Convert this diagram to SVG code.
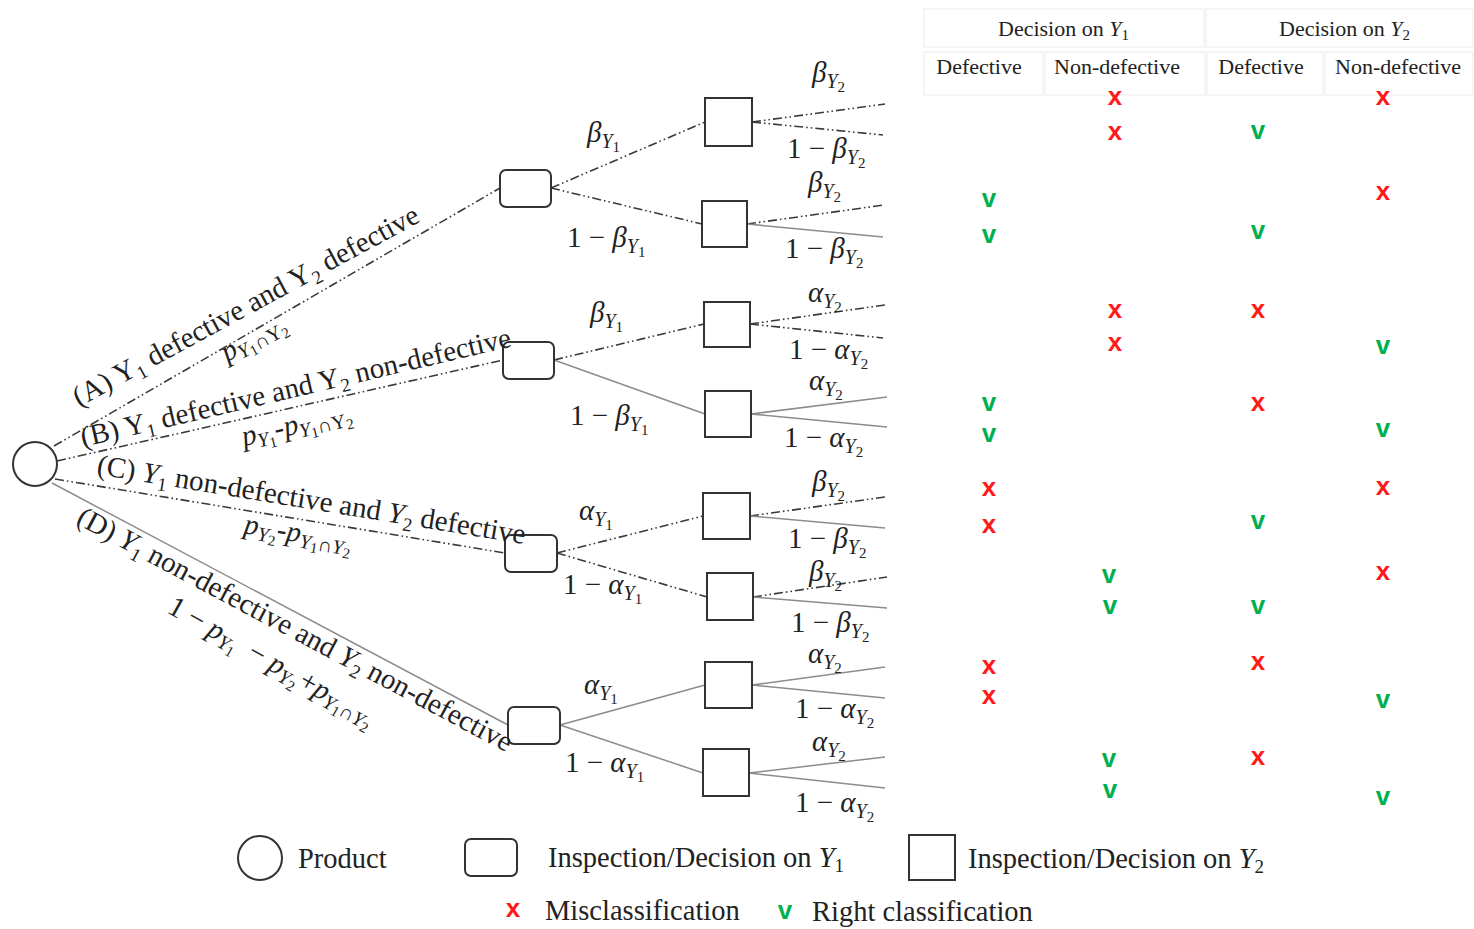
<svg xmlns="http://www.w3.org/2000/svg" width="1474" height="929" viewBox="0 0 1474 929">
  <style>
    .bg { fill: #ffffff; }
    .node { fill: #ffffff; stroke: #333333; stroke-width: 2; }
    .dd { stroke: #3a3a3a; stroke-width: 1.6; stroke-dasharray: 9 3 1.6 3 1.6 3; fill: none; }
    .sl { stroke: #8c8c8c; stroke-width: 1.5; fill: none; }
    .grid { fill: none; stroke: #ececec; stroke-width: 1; }
    .hd { font-family: "Liberation Serif", "Times New Roman", serif; font-size: 22px; fill: #222; }
    .lab { font-family: "Liberation Serif", "Times New Roman", serif; font-size: 29px; fill: #222; }
    .m { font-family: "Liberation Serif", "Times New Roman", serif; font-size: 29px; font-style: italic; fill: #222; }
    .u { font-style: normal; }
    .s1 { font-size: 20px; }
    .s2 { font-size: 15px; font-style: normal; }
    .lg { font-family: "Liberation Serif", "Times New Roman", serif; font-size: 28.5px; fill: #222; }
    .mk { font-family: "Liberation Sans", Arial, sans-serif; font-size: 26px; font-weight: bold; text-anchor: middle; }
    .x { fill: #ff1a1a; }
    .v { fill: #00b050; }
  </style>
  <rect class="bg" x="0" y="0" width="1474" height="929"/>

  <!-- connectors -->
  <g id="connectors">
    <!-- product to Y1 inspection -->
    <line class="dd" x1="54" y1="446" x2="500" y2="188"/>
    <line class="dd" x1="57" y1="461" x2="503" y2="360"/>
    <line class="dd" x1="55" y1="479" x2="505" y2="553"/>
    <line class="sl" x1="52" y1="483" x2="508" y2="725"/>
    <!-- Y1 inspection to Y2 inspection -->
    <line class="dd" x1="551" y1="188" x2="705" y2="122"/>
    <line class="dd" x1="551" y1="188" x2="702" y2="224"/>
    <line class="dd" x1="554" y1="360" x2="704" y2="324"/>
    <line class="sl" x1="554" y1="360" x2="705" y2="414"/>
    <line class="dd" x1="557" y1="553" x2="703" y2="516"/>
    <line class="dd" x1="557" y1="553" x2="707" y2="597"/>
    <line class="sl" x1="560" y1="725" x2="705" y2="685"/>
    <line class="sl" x1="560" y1="725" x2="703" y2="773"/>
    <!-- Y2 outcomes -->
    <line class="dd" x1="752" y1="122" x2="885" y2="104"/>
    <line class="dd" x1="752" y1="122" x2="883" y2="135"/>
    <line class="dd" x1="747" y1="224" x2="884" y2="205"/>
    <line class="sl" x1="747" y1="224" x2="883" y2="237"/>
    <line class="dd" x1="750" y1="324" x2="885" y2="305"/>
    <line class="dd" x1="750" y1="324" x2="883" y2="338"/>
    <line class="sl" x1="751" y1="414" x2="887" y2="397"/>
    <line class="sl" x1="751" y1="414" x2="887" y2="427"/>
    <line class="dd" x1="750" y1="516" x2="885" y2="497"/>
    <line class="sl" x1="750" y1="516" x2="885" y2="528"/>
    <line class="dd" x1="753" y1="597" x2="887" y2="577"/>
    <line class="sl" x1="753" y1="597" x2="887" y2="608"/>
    <line class="sl" x1="752" y1="685" x2="885" y2="667"/>
    <line class="sl" x1="752" y1="685" x2="885" y2="698"/>
    <line class="sl" x1="749" y1="773" x2="885" y2="757"/>
    <line class="sl" x1="749" y1="773" x2="885" y2="788"/>
  </g>

  <!-- nodes -->
  <g id="product"><circle class="node" cx="35" cy="464" r="22"/></g>
  <g id="y1-a"><rect class="node" x="500" y="170" width="51" height="37" rx="6"/></g>
  <g id="y1-b"><rect class="node" x="503" y="342" width="51" height="37" rx="6"/></g>
  <g id="y1-c"><rect class="node" x="505" y="535" width="52" height="37" rx="6"/></g>
  <g id="y1-d"><rect class="node" x="508" y="707" width="52" height="37" rx="6"/></g>
  <g id="y2-a1"><rect class="node" x="705" y="98" width="47" height="48"/></g>
  <g id="y2-a2"><rect class="node" x="702" y="201" width="45" height="46"/></g>
  <g id="y2-b1"><rect class="node" x="704" y="302" width="46" height="45"/></g>
  <g id="y2-b2"><rect class="node" x="705" y="391" width="46" height="46"/></g>
  <g id="y2-c1"><rect class="node" x="703" y="493" width="47" height="46"/></g>
  <g id="y2-c2"><rect class="node" x="707" y="573" width="46" height="47"/></g>
  <g id="y2-d1"><rect class="node" x="705" y="662" width="47" height="46"/></g>
  <g id="y2-d2"><rect class="node" x="703" y="749" width="46" height="47"/></g>

  <!-- branch labels from the product -->
  <g id="branch-labels">
    <text class="lab" transform="translate(79,407) rotate(-28.5)">(A) Y<tspan font-size="19" dy="6">1</tspan><tspan dy="-6"> defective and Y</tspan><tspan font-size="19" dy="6">2</tspan><tspan dy="-6"> defective</tspan></text>
    <text class="m" transform="translate(227,362) rotate(-29)">p<tspan class="s1" dy="5">Y</tspan><tspan class="s2" dy="3">1</tspan><tspan class="s1 u" dy="-3">∩Y</tspan><tspan class="s2" dy="3">2</tspan></text>

    <text class="lab" transform="translate(83,447) rotate(-13.2)">(B) Y<tspan font-size="19" dy="6">1</tspan><tspan dy="-6"> defective and Y</tspan><tspan font-size="19" dy="6">2</tspan><tspan dy="-6"> non-defective</tspan></text>
    <text class="m" transform="translate(244,446) rotate(-13.2)">p<tspan class="s1" dy="5">Y</tspan><tspan class="s2" dy="3">1</tspan><tspan class="u" dy="-8">-</tspan>p<tspan class="s1" dy="5">Y</tspan><tspan class="s2" dy="3">1</tspan><tspan class="s1 u" dy="-3">∩Y</tspan><tspan class="s2" dy="3">2</tspan></text>

    <text class="lab" transform="translate(96,474) rotate(9.3)">(C) <tspan font-style="italic">Y</tspan><tspan font-size="19" dy="6">1</tspan><tspan dy="-6"> non-defective and </tspan><tspan font-style="italic">Y</tspan><tspan font-size="19" dy="6">2</tspan><tspan dy="-6"> defective</tspan></text>
    <text class="m" transform="translate(243,533) rotate(9.5)">p<tspan class="s1" dy="5">Y</tspan><tspan class="s2" dy="3">2</tspan><tspan class="u" dy="-8">-</tspan>p<tspan class="s1" dy="5">Y</tspan><tspan class="s2" dy="3">1</tspan><tspan class="s1 u" dy="-3">∩</tspan><tspan class="s1">Y</tspan><tspan class="s2" dy="3">2</tspan></text>

    <text class="lab" transform="translate(75,523) rotate(28)">(D) <tspan font-style="italic">Y</tspan><tspan font-size="19" dy="6">1</tspan><tspan dy="-6"> non-defective and </tspan><tspan font-style="italic">Y</tspan><tspan font-size="19" dy="6">2</tspan><tspan dy="-6"> non-defective</tspan></text>
    <text class="m" transform="translate(166,612) rotate(29.5)"><tspan class="u">1 − </tspan>p<tspan class="s1" dy="5">Y</tspan><tspan class="s2" dy="3">1</tspan><tspan class="u" dy="-8" dx="6"> − </tspan>p<tspan class="s1" dy="5">Y</tspan><tspan class="s2" dy="3">2</tspan><tspan class="u" dy="-8" dx="2">+</tspan>p<tspan class="s1" dy="5">Y</tspan><tspan class="s2" dy="3">1</tspan><tspan class="s1 u" dy="-3">∩</tspan><tspan class="s1">Y</tspan><tspan class="s2" dy="3">2</tspan></text>
  </g>

  <!-- probability labels on inspection branches -->
  <g id="prob-labels">
    <!-- Y1 decisions -->
    <text class="m" x="587" y="142">β<tspan class="s1" dy="6">Y</tspan><tspan class="s2" dy="4">1</tspan></text>
    <text class="m" x="567" y="247"><tspan class="u">1 − </tspan>β<tspan class="s1" dy="6">Y</tspan><tspan class="s2" dy="4">1</tspan></text>
    <text class="m" x="590" y="322">β<tspan class="s1" dy="6">Y</tspan><tspan class="s2" dy="4">1</tspan></text>
    <text class="m" x="570" y="425"><tspan class="u">1 − </tspan>β<tspan class="s1" dy="6">Y</tspan><tspan class="s2" dy="4">1</tspan></text>
    <text class="m" x="579" y="520">α<tspan class="s1" dy="6">Y</tspan><tspan class="s2" dy="4">1</tspan></text>
    <text class="m" x="563" y="594"><tspan class="u">1 − </tspan>α<tspan class="s1" dy="6">Y</tspan><tspan class="s2" dy="4">1</tspan></text>
    <text class="m" x="584" y="694">α<tspan class="s1" dy="6">Y</tspan><tspan class="s2" dy="4">1</tspan></text>
    <text class="m" x="565" y="772"><tspan class="u">1 − </tspan>α<tspan class="s1" dy="6">Y</tspan><tspan class="s2" dy="4">1</tspan></text>
    <!-- Y2 decisions -->
    <text class="m" x="812" y="82">β<tspan class="s1" dy="6">Y</tspan><tspan class="s2" dy="4">2</tspan></text>
    <text class="m" x="787" y="158"><tspan class="u">1 − </tspan>β<tspan class="s1" dy="6">Y</tspan><tspan class="s2" dy="4">2</tspan></text>
    <text class="m" x="808" y="192">β<tspan class="s1" dy="6">Y</tspan><tspan class="s2" dy="4">2</tspan></text>
    <text class="m" x="785" y="258"><tspan class="u">1 − </tspan>β<tspan class="s1" dy="6">Y</tspan><tspan class="s2" dy="4">2</tspan></text>
    <text class="m" x="808" y="302">α<tspan class="s1" dy="6">Y</tspan><tspan class="s2" dy="4">2</tspan></text>
    <text class="m" x="789" y="359"><tspan class="u">1 − </tspan>α<tspan class="s1" dy="6">Y</tspan><tspan class="s2" dy="4">2</tspan></text>
    <text class="m" x="809" y="390">α<tspan class="s1" dy="6">Y</tspan><tspan class="s2" dy="4">2</tspan></text>
    <text class="m" x="784" y="447"><tspan class="u">1 − </tspan>α<tspan class="s1" dy="6">Y</tspan><tspan class="s2" dy="4">2</tspan></text>
    <text class="m" x="812" y="491">β<tspan class="s1" dy="6">Y</tspan><tspan class="s2" dy="4">2</tspan></text>
    <text class="m" x="788" y="548"><tspan class="u">1 − </tspan>β<tspan class="s1" dy="6">Y</tspan><tspan class="s2" dy="4">2</tspan></text>
    <text class="m" x="809" y="581">β<tspan class="s1" dy="6">Y</tspan><tspan class="s2" dy="4">2</tspan></text>
    <text class="m" x="791" y="632"><tspan class="u">1 − </tspan>β<tspan class="s1" dy="6">Y</tspan><tspan class="s2" dy="4">2</tspan></text>
    <text class="m" x="808" y="663">α<tspan class="s1" dy="6">Y</tspan><tspan class="s2" dy="4">2</tspan></text>
    <text class="m" x="795" y="718"><tspan class="u">1 − </tspan>α<tspan class="s1" dy="6">Y</tspan><tspan class="s2" dy="4">2</tspan></text>
    <text class="m" x="812" y="751">α<tspan class="s1" dy="6">Y</tspan><tspan class="s2" dy="4">2</tspan></text>
    <text class="m" x="795" y="812"><tspan class="u">1 − </tspan>α<tspan class="s1" dy="6">Y</tspan><tspan class="s2" dy="4">2</tspan></text>
  </g>

  <!-- decision table header -->
  <g id="table-header">
    <rect class="grid" x="924" y="9" width="280" height="38"/>
    <rect class="grid" x="1206" y="9" width="267" height="38"/>
    <rect class="grid" x="924" y="52" width="119" height="43"/>
    <rect class="grid" x="1045" y="52" width="160" height="43"/>
    <rect class="grid" x="1207" y="52" width="116" height="43"/>
    <rect class="grid" x="1325" y="52" width="148" height="43"/>
    <text class="hd" x="998" y="36">Decision on <tspan font-style="italic">Y</tspan><tspan font-size="15" dy="4">1</tspan></text>
    <text class="hd" x="1279" y="36">Decision on <tspan font-style="italic">Y</tspan><tspan font-size="15" dy="4">2</tspan></text>
    <text class="hd" x="979" y="74" text-anchor="middle">Defective</text>
    <text class="hd" x="1117" y="74" text-anchor="middle">Non-defective</text>
    <text class="hd" x="1261" y="74" text-anchor="middle">Defective</text>
    <text class="hd" x="1398" y="74" text-anchor="middle">Non-defective</text>
  </g>

  <!-- classification marks -->
  <g id="marks">
    <text class="mk x" x="1115" y="105">x</text><text class="mk x" x="1383" y="105">x</text>
    <text class="mk x" x="1115" y="140">x</text><text class="mk v" x="1258" y="139">v</text>
    <text class="mk v" x="989" y="207">v</text><text class="mk x" x="1383" y="200">x</text>
    <text class="mk v" x="989" y="243">v</text><text class="mk v" x="1258" y="239">v</text>
    <text class="mk x" x="1115" y="318">x</text><text class="mk x" x="1258" y="318">x</text>
    <text class="mk x" x="1115" y="351">x</text><text class="mk v" x="1383" y="354">v</text>
    <text class="mk v" x="989" y="411">v</text><text class="mk x" x="1258" y="411">x</text>
    <text class="mk v" x="989" y="442">v</text><text class="mk v" x="1383" y="437">v</text>
    <text class="mk x" x="989" y="496">x</text><text class="mk x" x="1383" y="495">x</text>
    <text class="mk x" x="989" y="533">x</text><text class="mk v" x="1258" y="529">v</text>
    <text class="mk v" x="1109" y="583">v</text><text class="mk x" x="1383" y="580">x</text>
    <text class="mk v" x="1110" y="614">v</text><text class="mk v" x="1258" y="614">v</text>
    <text class="mk x" x="989" y="674">x</text><text class="mk x" x="1258" y="670">x</text>
    <text class="mk x" x="989" y="704">x</text><text class="mk v" x="1383" y="708">v</text>
    <text class="mk v" x="1109" y="767">v</text><text class="mk x" x="1258" y="765">x</text>
    <text class="mk v" x="1110" y="798">v</text><text class="mk v" x="1383" y="805">v</text>
  </g>

  <!-- legend -->
  <g id="legend">
    <circle class="node" cx="260" cy="858" r="22"/>
    <text class="lg" x="298" y="868">Product</text>
    <rect class="node" x="465" y="839" width="52" height="37" rx="6"/>
    <text class="lg" x="548" y="867">Inspection/Decision on <tspan font-style="italic">Y</tspan><tspan font-size="19" dy="5">1</tspan></text>
    <rect class="node" x="909" y="835" width="46" height="45"/>
    <text class="lg" x="968" y="868">Inspection/Decision on <tspan font-style="italic">Y</tspan><tspan font-size="19" dy="5">2</tspan></text>
    <text class="mk x" x="513" y="917">x</text>
    <text class="lg" x="545" y="920">Misclassification</text>
    <text class="mk v" x="785" y="919">v</text>
    <text class="lg" x="812" y="921">Right classification</text>
  </g>
</svg>
